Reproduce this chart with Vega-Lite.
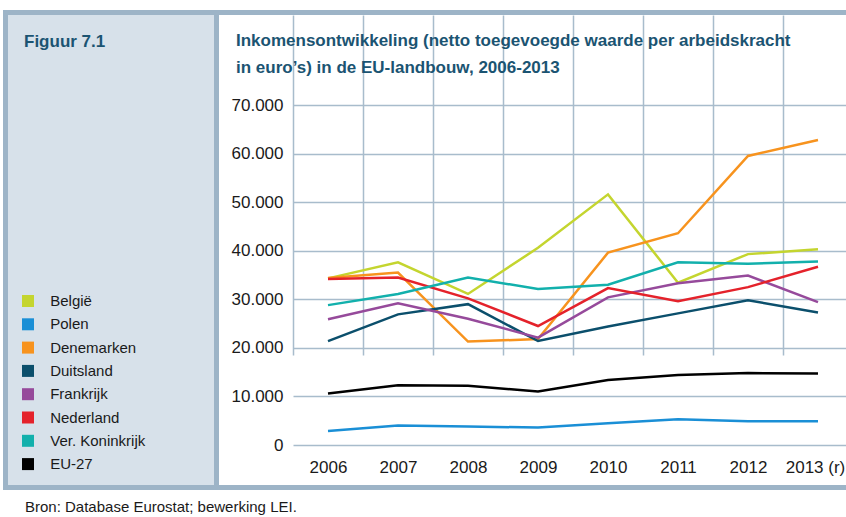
{
  "$schema": "https://vega.github.io/schema/vega-lite/v6.json",
  "background": "white",
  "padding": {"left": 3, "top": 10, "right": 0, "bottom": 0},
  "config": {
    "view": {"stroke": null},
    "font": "Liberation Sans",
    "title": {"font": "Liberation Sans", "color": "#1b5472", "fontSize": 17, "fontWeight": "bold", "anchor": "start", "frame": "group", "baseline": "alphabetic"}
  },
  "spacing": 0,
  "bounds": "full",
  "resolve": {"scale": {"color": "independent"}, "legend": {"color": "independent"}},
  "vconcat": [
    {"width": 843, "height": 5, "view": {"fill": "#9db4c7", "stroke": null}, "data": {"values": []}, "mark": "point"},
    {
      "spacing": 0,
      "bounds": "flush",
      "resolve": {"scale": {"color": "independent"}, "legend": {"color": "independent"}},
      "hconcat": [
        {"width": 5, "height": 470, "view": {"fill": "#9db4c7", "stroke": null}, "data": {"values": []}, "mark": "point"},
        {"width": 206, "height": 470, "view": {"fill": "#d7e1ea", "stroke": null}, "title": {"text": "Figuur 7.1", "dx": 16, "offset": -35.5}, "data": {"values": []}, "mark": "point"},
        {"width": 5, "height": 470, "view": {"fill": "#9db4c7", "stroke": null}, "data": {"values": []}, "mark": "point"},
        {"width": 74, "height": 470, "data": {"values": []}, "mark": "point"},
        {
          "name": "plot",
          "width": 553,
          "height": 430,
          "title": {"text": ["Inkomensontwikkeling (netto toegevoegde waarde per arbeidskracht", "in euro’s) in de EU-landbouw, 2006-2013"], "dx": -57, "offset": -62, "lineHeight": 27},
          "data": {"values": [
            {"jaar": 2006, "land": "België", "waarde": 34300},
            {"jaar": 2007, "land": "België", "waarde": 37600},
            {"jaar": 2008, "land": "België", "waarde": 31100},
            {"jaar": 2009, "land": "België", "waarde": 40600},
            {"jaar": 2010, "land": "België", "waarde": 51600},
            {"jaar": 2011, "land": "België", "waarde": 33400},
            {"jaar": 2012, "land": "België", "waarde": 39300},
            {"jaar": 2013, "land": "België", "waarde": 40300},
            {"jaar": 2006, "land": "Polen", "waarde": 2900},
            {"jaar": 2007, "land": "Polen", "waarde": 4000},
            {"jaar": 2008, "land": "Polen", "waarde": 3800},
            {"jaar": 2009, "land": "Polen", "waarde": 3600},
            {"jaar": 2010, "land": "Polen", "waarde": 4500},
            {"jaar": 2011, "land": "Polen", "waarde": 5300},
            {"jaar": 2012, "land": "Polen", "waarde": 4900},
            {"jaar": 2013, "land": "Polen", "waarde": 4900},
            {"jaar": 2006, "land": "Denemarken", "waarde": 34400},
            {"jaar": 2007, "land": "Denemarken", "waarde": 35500},
            {"jaar": 2008, "land": "Denemarken", "waarde": 21300},
            {"jaar": 2009, "land": "Denemarken", "waarde": 21800},
            {"jaar": 2010, "land": "Denemarken", "waarde": 39600},
            {"jaar": 2011, "land": "Denemarken", "waarde": 43600},
            {"jaar": 2012, "land": "Denemarken", "waarde": 59500},
            {"jaar": 2013, "land": "Denemarken", "waarde": 62800},
            {"jaar": 2006, "land": "Duitsland", "waarde": 21400},
            {"jaar": 2007, "land": "Duitsland", "waarde": 26900},
            {"jaar": 2008, "land": "Duitsland", "waarde": 29000},
            {"jaar": 2009, "land": "Duitsland", "waarde": 21400},
            {"jaar": 2010, "land": "Duitsland", "waarde": 24400},
            {"jaar": 2011, "land": "Duitsland", "waarde": 27100},
            {"jaar": 2012, "land": "Duitsland", "waarde": 29800},
            {"jaar": 2013, "land": "Duitsland", "waarde": 27300},
            {"jaar": 2006, "land": "Frankrijk", "waarde": 25900},
            {"jaar": 2007, "land": "Frankrijk", "waarde": 29200},
            {"jaar": 2008, "land": "Frankrijk", "waarde": 26000},
            {"jaar": 2009, "land": "Frankrijk", "waarde": 22100},
            {"jaar": 2010, "land": "Frankrijk", "waarde": 30400},
            {"jaar": 2011, "land": "Frankrijk", "waarde": 33300},
            {"jaar": 2012, "land": "Frankrijk", "waarde": 34900},
            {"jaar": 2013, "land": "Frankrijk", "waarde": 29400},
            {"jaar": 2006, "land": "Nederland", "waarde": 34200},
            {"jaar": 2007, "land": "Nederland", "waarde": 34500},
            {"jaar": 2008, "land": "Nederland", "waarde": 30200},
            {"jaar": 2009, "land": "Nederland", "waarde": 24500},
            {"jaar": 2010, "land": "Nederland", "waarde": 32300},
            {"jaar": 2011, "land": "Nederland", "waarde": 29600},
            {"jaar": 2012, "land": "Nederland", "waarde": 32500},
            {"jaar": 2013, "land": "Nederland", "waarde": 36700},
            {"jaar": 2006, "land": "Ver. Koninkrijk", "waarde": 28800},
            {"jaar": 2007, "land": "Ver. Koninkrijk", "waarde": 31100},
            {"jaar": 2008, "land": "Ver. Koninkrijk", "waarde": 34500},
            {"jaar": 2009, "land": "Ver. Koninkrijk", "waarde": 32100},
            {"jaar": 2010, "land": "Ver. Koninkrijk", "waarde": 33000},
            {"jaar": 2011, "land": "Ver. Koninkrijk", "waarde": 37600},
            {"jaar": 2012, "land": "Ver. Koninkrijk", "waarde": 37300},
            {"jaar": 2013, "land": "Ver. Koninkrijk", "waarde": 37800},
            {"jaar": 2006, "land": "EU-27", "waarde": 10600},
            {"jaar": 2007, "land": "EU-27", "waarde": 12300},
            {"jaar": 2008, "land": "EU-27", "waarde": 12200},
            {"jaar": 2009, "land": "EU-27", "waarde": 11000},
            {"jaar": 2010, "land": "EU-27", "waarde": 13400},
            {"jaar": 2011, "land": "EU-27", "waarde": 14400},
            {"jaar": 2012, "land": "EU-27", "waarde": 14800},
            {"jaar": 2013, "land": "EU-27", "waarde": 14700}
          ]},
          "mark": {"type": "line", "strokeWidth": 2.5},
          "encoding": {
            "x": {
              "field": "jaar", "type": "quantitative",
              "scale": {"domain": [2005.5, 2013.4], "nice": false, "zero": false},
              "axis": {
                "title": null,
                "values": [2005.5, 2006, 2006.5, 2007, 2007.5, 2008, 2008.5, 2009, 2009.5, 2010, 2010.5, 2011, 2011.5, 2012, 2012.5, 2013],
                "domain": false, "ticks": false, "tickSize": 0,
                "labelPadding": 14, "labelFontSize": 17, "labelColor": "#1a1a1a",
                "labelOverlap": false, "labelFlush": false,
                "labelExpr": "datum.value % 1 === 0 ? (datum.value === 2013 ? '2013 (r)' : '' + datum.value) : ''",
                "labelOffset": {"condition": {"test": "datum.value === 2013", "value": -3}, "value": 0},
                "grid": true,
                "gridColor": {"condition": {"test": "datum.value % 1 === 0", "value": "rgba(0,0,0,0)"}, "value": "#a8bccc"},
                "gridWidth": 1.5
              }
            },
            "y": {
              "field": "waarde", "type": "quantitative",
              "scale": {"domain": [0, 70000], "range": [430, 90], "nice": false},
              "axis": {
                "title": null,
                "values": [0, 10000, 20000, 30000, 40000, 50000, 60000, 70000],
                "domain": false, "ticks": false, "tickSize": 0,
                "labelPadding": 10, "labelFontSize": 17, "labelColor": "#1a1a1a",
                "labelExpr": "replace(format(datum.value, ','), ',', '.')",
                "grid": true, "gridColor": "#a8bccc", "gridWidth": 1.5
              }
            },
            "color": {
              "field": "land", "type": "nominal", "sort": null,
              "scale": {
                "domain": ["België", "Polen", "Denemarken", "Duitsland", "Frankrijk", "Nederland", "Ver. Koninkrijk", "EU-27"],
                "range": ["#c4d52f", "#1a8fd6", "#f7931e", "#0b4f6c", "#964a9b", "#e4222b", "#12b0ac", "#000000"]
              },
              "legend": {
                "orient": "none", "legendX": -272.5, "legendY": 278.5, "title": null,
                "symbolType": "square", "symbolSize": 144, "symbolStrokeWidth": 0,
                "labelFontSize": 15, "labelColor": "#1a1a1a", "labelOffset": 14.7,
                "rowPadding": 7.3, "padding": 0,
                "encode": {"symbols": {"update": {"fill": {"scale": "plot_color", "field": "value"}, "fillOpacity": {"value": 1}, "opacity": {"value": 1}}}}
              }
            }
          }
        }
      ]
    },
    {"width": 843, "height": 5, "view": {"fill": "#9db4c7", "stroke": null}, "data": {"values": []}, "mark": "point"},
    {"width": 843, "height": 27, "data": {"values": []}, "mark": "point", "title": {"text": "Bron: Database Eurostat; bewerking LEI.", "fontWeight": "normal", "fontSize": 15, "color": "#1a1a1a", "dx": 22, "offset": -25}}
  ]
}
